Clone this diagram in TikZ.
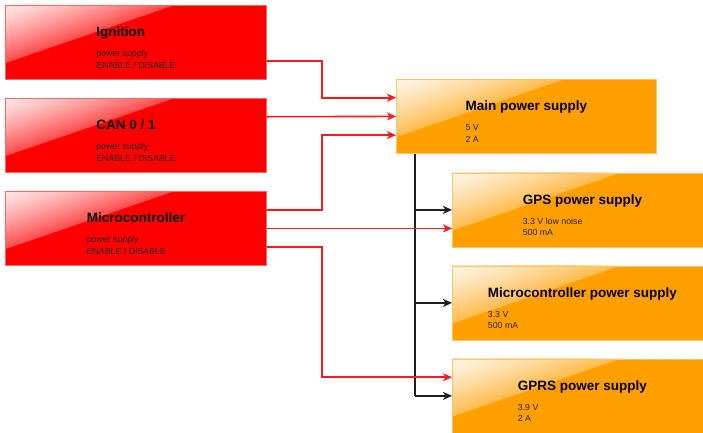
\documentclass[tikz,border=0pt]{standalone}
\usepackage{fontspec}
\setmainfont{Liberation Sans}
\usetikzlibrary{calc,arrows.meta}
\definecolor{boxred}{RGB}{255,0,0}
\definecolor{boxorange}{RGB}{255,159,0}
\definecolor{wire}{RGB}{255,25,25}
\definecolor{bwire}{RGB}{30,30,30}
\newcommand\titlefont{\fontsize{13.5}{15}\selectfont\bfseries}
\newcommand\subfont{\fontsize{8.8}{10}\selectfont\color{black!85}}
\newcommand\boxtext[3]{\vbox{\offinterlineskip\halign{##\hfil\cr
 \vrule height 10pt depth 0pt width 0pt\smash{\titlefont #1}\cr
 \vrule height 19.8pt depth 0pt width 0pt\smash{\subfont #2}\cr
 \vrule height 11.5pt depth 0pt width 0pt\smash{\subfont #3}\cr}}}
\tikzset{
  gloss/.style={path picture={
    \coordinate (gA) at (path picture bounding box.north west);
    \coordinate (gB) at ($(path picture bounding box.north west)!0.645!(path picture bounding box.north east)$);
    \coordinate (gC) at ($(path picture bounding box.north west)!0.78!(path picture bounding box.south west)$);
    \foreach \i in {30,29,...,1}{
      \pgfmathsetmacro\ta{\i/30}
      \pgfmathtruncatemacro\pc{10+60*(\i/30)^1.3}
      \fill[#1!\pc!white] (gA) -- ($(gA)!\ta!(gB)$) -- ($(gA)!\ta!(gC)$) -- cycle;
    }}},
  basebox/.style={line width=0.8pt, minimum width=261pt, minimum height=74pt,
    inner sep=0pt, anchor=north west},
  redbox/.style={basebox, draw=boxred!60!white, fill=boxred, gloss=boxred},
  orbox/.style={basebox, minimum width=260pt, draw=boxorange!60!white, fill=boxorange, gloss=boxorange},
  txt/.style={anchor=north, inner sep=0pt},
  redarrow/.style={draw=wire, line width=1.6pt, -{Stealth[length=9pt,width=8pt,inset=2.5pt]}},
  blackarrow/.style={draw=bwire, line width=1.5pt, -{Stealth[length=9pt,width=8pt,inset=2.5pt]}},
  blackline/.style={draw=bwire, line width=1.5pt}
}
\begin{document}
\begin{tikzpicture}[x=1pt,y=-1pt]
\useasboundingbox (0,0) rectangle (703,432);
\fill[white] (0,0) rectangle (703,432);

% boxes
\node[redbox] (ign) at (5,5) {};
\node[redbox] (can) at (5,98) {};
\node[redbox] (mc) at (5,191) {};
\node[orbox] (main) at (396,79) {};
\node[orbox] (gps) at (452,172.5) {};
\node[orbox] (mps) at (452,265.5) {};
\node[orbox] (gprs) at (452,358.5) {};

% texts
\node[txt] (ignt) at ($(ign.north)+(0,21.5)$) {\boxtext{Ignition}{power supply}{ENABLE / DISABLE}};
\node[txt] (cant) at ($(can.north)+(0,21.5)$) {\boxtext{CAN 0 / 1}{power supply}{ENABLE / DISABLE}};
\node[txt] (mct) at ($(mc.north)+(0,21.5)$) {\boxtext{Microcontroller}{power supply}{ENABLE / DISABLE}};
\node[txt] (maint) at ($(main.north)+(0,21.5)$) {\boxtext{Main power supply}{5 V}{2 A}};
\node[txt] (gpst) at ($(gps.north)+(0,21.5)$) {\boxtext{GPS power supply}{3.3 V low noise}{500 mA}};
\node[txt] (mpst) at ($(mps.north)+(0,21.5)$) {\boxtext{Microcontroller power supply}{3.3 V}{500 mA}};
\node[txt] (gprst) at ($(gprs.north)+(0,21.5)$) {\boxtext{GPRS power supply}{3.9 V}{2 A}};

% anchor points
\coordinate (bend) at (322,0);
\coordinate (ign o) at ($(ign.north east)!0.75!(ign.south east)$);
\coordinate (can o) at ($(can.north east)!0.25!(can.south east)$);
\coordinate (mc o1) at ($(mc.north east)!0.25!(mc.south east)$);
\coordinate (mc o3) at ($(mc.north east)!0.75!(mc.south east)$);
\coordinate (main i1) at ($(main.north west)!0.25!(main.south west)$);
\coordinate (main i2) at ($(main.north west)!0.5!(main.south west)$);
\coordinate (main i3) at ($(main.north west)!0.75!(main.south west)$);
\coordinate (gprs i1) at ($(gprs.north west)!0.25!(gprs.south west)$);
\coordinate (trunk) at ($(main.south west)+(19,0)$);

% black distribution
\draw[blackline] (trunk) -- (trunk |- gprs.west);
\draw[blackarrow] (trunk |- gps.west) -- (gps.west);
\draw[blackarrow] (trunk |- mps.west) -- (mps.west);
\draw[blackarrow] (trunk |- gprs.west) -- (gprs.west);

% red enable lines
\draw[redarrow] (ign o) -- (ign o -| bend) |- (main i1);
\draw[redarrow] (can o) -- (main i2);
\draw[redarrow] (mc o1) -- (mc o1 -| bend) |- (main i3);
\draw[redarrow] (mc.east) -- (mc.east -| gps.west);
\draw[redarrow] (mc o3) -- (mc o3 -| bend) |- (gprs i1);
\end{tikzpicture}
\end{document}
